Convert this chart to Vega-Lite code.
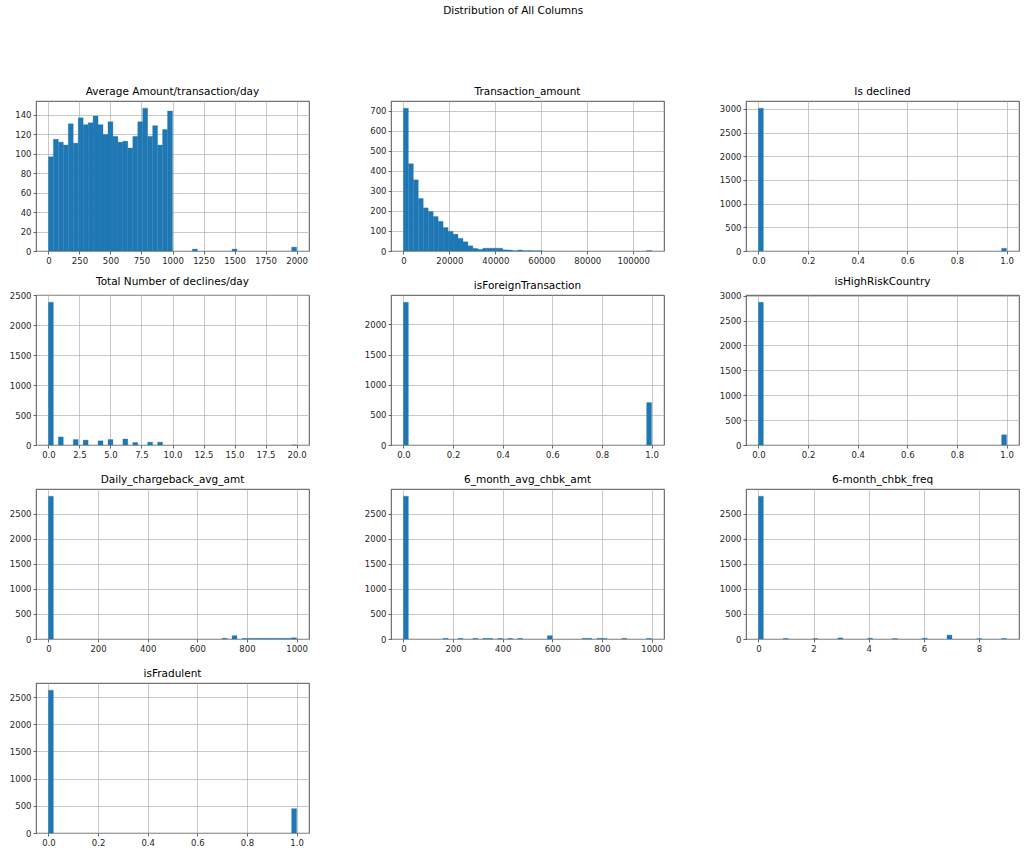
{
  "$schema": "https://vega.github.io/schema/vega-lite/v6.json",
  "padding": {"left": 8, "top": 5, "right": 5, "bottom": 5},
  "title": {"text": "Distribution of All Columns", "fontSize": 10.5, "offset": 70, "anchor": "middle", "dx": -1},
  "config": {
    "font": "DejaVu Sans",
    "view": {"stroke": "#262626", "strokeWidth": 0.8},
    "axis": {"domain": false, "grid": true, "gridColor": "#b0b0b0", "gridWidth": 0.7, "tickColor": "#262626", "tickSize": 3, "tickWidth": 0.7, "labelFontSize": 8.5, "labelColor": "#262626", "labelPadding": 2, "labelFont": "DejaVu Sans"},
    "title": {"fontSize": 10.5, "fontWeight": "normal", "color": "#000000", "offset": 4, "font": "DejaVu Sans"},
    "bar": {"color": "#1f77b4", "stroke": "#1f77b4", "strokeWidth": 0.3}
  },
  "datasets": {
    "hist": [
      {"var": "avg", "bin_start": 0, "bin_end": 40, "count": 97},
      {"var": "avg", "bin_start": 40, "bin_end": 80, "count": 115},
      {"var": "avg", "bin_start": 80, "bin_end": 120, "count": 112},
      {"var": "avg", "bin_start": 120, "bin_end": 160, "count": 109},
      {"var": "avg", "bin_start": 160, "bin_end": 200, "count": 131},
      {"var": "avg", "bin_start": 200, "bin_end": 240, "count": 111},
      {"var": "avg", "bin_start": 240, "bin_end": 280, "count": 137},
      {"var": "avg", "bin_start": 280, "bin_end": 320, "count": 130},
      {"var": "avg", "bin_start": 320, "bin_end": 360, "count": 132},
      {"var": "avg", "bin_start": 360, "bin_end": 400, "count": 139},
      {"var": "avg", "bin_start": 400, "bin_end": 440, "count": 130},
      {"var": "avg", "bin_start": 440, "bin_end": 480, "count": 120},
      {"var": "avg", "bin_start": 480, "bin_end": 520, "count": 133},
      {"var": "avg", "bin_start": 520, "bin_end": 560, "count": 118},
      {"var": "avg", "bin_start": 560, "bin_end": 600, "count": 112},
      {"var": "avg", "bin_start": 600, "bin_end": 640, "count": 113},
      {"var": "avg", "bin_start": 640, "bin_end": 680, "count": 106},
      {"var": "avg", "bin_start": 680, "bin_end": 720, "count": 118},
      {"var": "avg", "bin_start": 720, "bin_end": 760, "count": 133},
      {"var": "avg", "bin_start": 760, "bin_end": 800, "count": 147},
      {"var": "avg", "bin_start": 800, "bin_end": 840, "count": 118},
      {"var": "avg", "bin_start": 840, "bin_end": 880, "count": 129},
      {"var": "avg", "bin_start": 880, "bin_end": 920, "count": 109},
      {"var": "avg", "bin_start": 920, "bin_end": 960, "count": 125},
      {"var": "avg", "bin_start": 960, "bin_end": 1000, "count": 144},
      {"var": "avg", "bin_start": 1160, "bin_end": 1200, "count": 2},
      {"var": "avg", "bin_start": 1480, "bin_end": 1520, "count": 2},
      {"var": "avg", "bin_start": 1960, "bin_end": 2000, "count": 4},

      {"var": "amt", "bin_start": 0, "bin_end": 2160, "count": 712},
      {"var": "amt", "bin_start": 2160, "bin_end": 4320, "count": 435},
      {"var": "amt", "bin_start": 4320, "bin_end": 6480, "count": 355},
      {"var": "amt", "bin_start": 6480, "bin_end": 8640, "count": 262},
      {"var": "amt", "bin_start": 8640, "bin_end": 10800, "count": 215},
      {"var": "amt", "bin_start": 10800, "bin_end": 12960, "count": 197},
      {"var": "amt", "bin_start": 12960, "bin_end": 15120, "count": 172},
      {"var": "amt", "bin_start": 15120, "bin_end": 17280, "count": 148},
      {"var": "amt", "bin_start": 17280, "bin_end": 19440, "count": 117},
      {"var": "amt", "bin_start": 19440, "bin_end": 21600, "count": 98},
      {"var": "amt", "bin_start": 21600, "bin_end": 23760, "count": 84},
      {"var": "amt", "bin_start": 23760, "bin_end": 25920, "count": 63},
      {"var": "amt", "bin_start": 25920, "bin_end": 28080, "count": 46},
      {"var": "amt", "bin_start": 28080, "bin_end": 30240, "count": 26},
      {"var": "amt", "bin_start": 30240, "bin_end": 32400, "count": 13},
      {"var": "amt", "bin_start": 32400, "bin_end": 34560, "count": 8},
      {"var": "amt", "bin_start": 34560, "bin_end": 36720, "count": 14},
      {"var": "amt", "bin_start": 36720, "bin_end": 38880, "count": 14},
      {"var": "amt", "bin_start": 38880, "bin_end": 41040, "count": 14},
      {"var": "amt", "bin_start": 41040, "bin_end": 43200, "count": 14},
      {"var": "amt", "bin_start": 43200, "bin_end": 45360, "count": 6},
      {"var": "amt", "bin_start": 45360, "bin_end": 47520, "count": 5},
      {"var": "amt", "bin_start": 47520, "bin_end": 49680, "count": 1},
      {"var": "amt", "bin_start": 49680, "bin_end": 51840, "count": 5},
      {"var": "amt", "bin_start": 51840, "bin_end": 54000, "count": 1},
      {"var": "amt", "bin_start": 54000, "bin_end": 56160, "count": 2},
      {"var": "amt", "bin_start": 56160, "bin_end": 58320, "count": 1},
      {"var": "amt", "bin_start": 58320, "bin_end": 60480, "count": 1},
      {"var": "amt", "bin_start": 105840, "bin_end": 108000, "count": 2},

      {"var": "declined", "bin_start": 0, "bin_end": 0.02, "count": 3018},
      {"var": "declined", "bin_start": 0.98, "bin_end": 1, "count": 57},

      {"var": "ndecl", "bin_start": 0, "bin_end": 0.4, "count": 2386},
      {"var": "ndecl", "bin_start": 0.8, "bin_end": 1.2, "count": 135},
      {"var": "ndecl", "bin_start": 2.0, "bin_end": 2.4, "count": 92},
      {"var": "ndecl", "bin_start": 2.8, "bin_end": 3.2, "count": 82},
      {"var": "ndecl", "bin_start": 4.0, "bin_end": 4.4, "count": 70},
      {"var": "ndecl", "bin_start": 4.8, "bin_end": 5.2, "count": 92},
      {"var": "ndecl", "bin_start": 6.0, "bin_end": 6.4, "count": 100},
      {"var": "ndecl", "bin_start": 6.8, "bin_end": 7.2, "count": 42},
      {"var": "ndecl", "bin_start": 8.0, "bin_end": 8.4, "count": 48},
      {"var": "ndecl", "bin_start": 8.8, "bin_end": 9.2, "count": 48},
      {"var": "ndecl", "bin_start": 19.6, "bin_end": 20, "count": 1},

      {"var": "foreign", "bin_start": 0, "bin_end": 0.02, "count": 2370},
      {"var": "foreign", "bin_start": 0.98, "bin_end": 1, "count": 705},

      {"var": "highrisk", "bin_start": 0, "bin_end": 0.02, "count": 2870},
      {"var": "highrisk", "bin_start": 0.98, "bin_end": 1, "count": 205},

      {"var": "dcb", "bin_start": 0, "bin_end": 20, "count": 2850},
      {"var": "dcb", "bin_start": 700, "bin_end": 720, "count": 15},
      {"var": "dcb", "bin_start": 740, "bin_end": 760, "count": 67},
      {"var": "dcb", "bin_start": 780, "bin_end": 800, "count": 12},
      {"var": "dcb", "bin_start": 800, "bin_end": 820, "count": 12},
      {"var": "dcb", "bin_start": 820, "bin_end": 840, "count": 12},
      {"var": "dcb", "bin_start": 840, "bin_end": 860, "count": 12},
      {"var": "dcb", "bin_start": 860, "bin_end": 880, "count": 12},
      {"var": "dcb", "bin_start": 880, "bin_end": 900, "count": 12},
      {"var": "dcb", "bin_start": 900, "bin_end": 920, "count": 12},
      {"var": "dcb", "bin_start": 920, "bin_end": 940, "count": 12},
      {"var": "dcb", "bin_start": 940, "bin_end": 960, "count": 12},
      {"var": "dcb", "bin_start": 960, "bin_end": 980, "count": 12},
      {"var": "dcb", "bin_start": 980, "bin_end": 1000, "count": 25},

      {"var": "m6amt", "bin_start": 0, "bin_end": 20, "count": 2850},
      {"var": "m6amt", "bin_start": 160, "bin_end": 180, "count": 12},
      {"var": "m6amt", "bin_start": 220, "bin_end": 240, "count": 12},
      {"var": "m6amt", "bin_start": 280, "bin_end": 300, "count": 12},
      {"var": "m6amt", "bin_start": 320, "bin_end": 340, "count": 12},
      {"var": "m6amt", "bin_start": 340, "bin_end": 360, "count": 12},
      {"var": "m6amt", "bin_start": 380, "bin_end": 400, "count": 12},
      {"var": "m6amt", "bin_start": 420, "bin_end": 440, "count": 12},
      {"var": "m6amt", "bin_start": 460, "bin_end": 480, "count": 12},
      {"var": "m6amt", "bin_start": 580, "bin_end": 600, "count": 67},
      {"var": "m6amt", "bin_start": 720, "bin_end": 740, "count": 12},
      {"var": "m6amt", "bin_start": 740, "bin_end": 760, "count": 12},
      {"var": "m6amt", "bin_start": 780, "bin_end": 800, "count": 12},
      {"var": "m6amt", "bin_start": 800, "bin_end": 820, "count": 12},
      {"var": "m6amt", "bin_start": 880, "bin_end": 900, "count": 12},
      {"var": "m6amt", "bin_start": 980, "bin_end": 1000, "count": 12},

      {"var": "m6freq", "bin_start": 0, "bin_end": 0.18, "count": 2850},
      {"var": "m6freq", "bin_start": 0.9, "bin_end": 1.08, "count": 10},
      {"var": "m6freq", "bin_start": 1.98, "bin_end": 2.16, "count": 8},
      {"var": "m6freq", "bin_start": 2.88, "bin_end": 3.06, "count": 22},
      {"var": "m6freq", "bin_start": 3.96, "bin_end": 4.14, "count": 15},
      {"var": "m6freq", "bin_start": 4.86, "bin_end": 5.04, "count": 8},
      {"var": "m6freq", "bin_start": 5.94, "bin_end": 6.12, "count": 15},
      {"var": "m6freq", "bin_start": 6.84, "bin_end": 7.02, "count": 78},
      {"var": "m6freq", "bin_start": 7.92, "bin_end": 8.1, "count": 8},
      {"var": "m6freq", "bin_start": 8.82, "bin_end": 9.0, "count": 10},

      {"var": "fraud", "bin_start": 0, "bin_end": 0.02, "count": 2627},
      {"var": "fraud", "bin_start": 0.98, "bin_end": 1, "count": 448}
    ]
  },
  "concat": [
    {
      "title": "Average Amount/transaction/day",
      "width": 273, "height": 150,
      "data": {"name": "hist"},
      "transform": [{"filter": "datum.var === 'avg'"}],
      "mark": "bar",
      "encoding": {
        "x": {"field": "bin_start", "type": "quantitative", "scale": {"domain": [-100, 2100], "nice": false, "zero": false}, "axis": {"title": null, "format": "d", "values": [0, 250, 500, 750, 1000, 1250, 1500, 1750, 2000]}},
        "x2": {"field": "bin_end"},
        "y": {"field": "count", "type": "quantitative", "scale": {"domain": [0, 154.35], "nice": false}, "axis": {"title": null, "format": "d", "values": [0, 20, 40, 60, 80, 100, 120, 140]}},
        "y2": {"datum": 0}
      }
    },
    {
      "title": "Transaction_amount",
      "width": 273, "height": 150,
      "data": {"name": "hist"},
      "transform": [{"filter": "datum.var === 'amt'"}],
      "mark": "bar",
      "encoding": {
        "x": {"field": "bin_start", "type": "quantitative", "scale": {"domain": [-5400, 113400], "nice": false, "zero": false}, "axis": {"title": null, "format": "d", "values": [0, 20000, 40000, 60000, 80000, 100000]}},
        "x2": {"field": "bin_end"},
        "y": {"field": "count", "type": "quantitative", "scale": {"domain": [0, 747.6], "nice": false}, "axis": {"title": null, "format": "d", "values": [0, 100, 200, 300, 400, 500, 600, 700]}},
        "y2": {"datum": 0}
      }
    },
    {
      "title": "Is declined",
      "width": 273, "height": 150,
      "data": {"name": "hist"},
      "transform": [{"filter": "datum.var === 'declined'"}],
      "mark": "bar",
      "encoding": {
        "x": {"field": "bin_start", "type": "quantitative", "scale": {"domain": [-0.05, 1.05], "nice": false, "zero": false}, "axis": {"title": null, "format": ".1f", "values": [0, 0.2, 0.4, 0.6, 0.8, 1]}},
        "x2": {"field": "bin_end"},
        "y": {"field": "count", "type": "quantitative", "scale": {"domain": [0, 3168.9], "nice": false}, "axis": {"title": null, "format": "d", "values": [0, 500, 1000, 1500, 2000, 2500, 3000]}},
        "y2": {"datum": 0}
      }
    },
    {
      "title": "Total Number of declines/day",
      "width": 273, "height": 150,
      "data": {"name": "hist"},
      "transform": [{"filter": "datum.var === 'ndecl'"}],
      "mark": "bar",
      "encoding": {
        "x": {"field": "bin_start", "type": "quantitative", "scale": {"domain": [-1, 21], "nice": false, "zero": false}, "axis": {"title": null, "format": ".1f", "values": [0, 2.5, 5, 7.5, 10, 12.5, 15, 17.5, 20]}},
        "x2": {"field": "bin_end"},
        "y": {"field": "count", "type": "quantitative", "scale": {"domain": [0, 2505.3], "nice": false}, "axis": {"title": null, "format": "d", "values": [0, 500, 1000, 1500, 2000, 2500]}},
        "y2": {"datum": 0}
      }
    },
    {
      "title": "isForeignTransaction",
      "width": 273, "height": 150,
      "data": {"name": "hist"},
      "transform": [{"filter": "datum.var === 'foreign'"}],
      "mark": "bar",
      "encoding": {
        "x": {"field": "bin_start", "type": "quantitative", "scale": {"domain": [-0.05, 1.05], "nice": false, "zero": false}, "axis": {"title": null, "format": ".1f", "values": [0, 0.2, 0.4, 0.6, 0.8, 1]}},
        "x2": {"field": "bin_end"},
        "y": {"field": "count", "type": "quantitative", "scale": {"domain": [0, 2488.5], "nice": false}, "axis": {"title": null, "format": "d", "values": [0, 500, 1000, 1500, 2000]}},
        "y2": {"datum": 0}
      }
    },
    {
      "title": "isHighRiskCountry",
      "width": 273, "height": 150,
      "data": {"name": "hist"},
      "transform": [{"filter": "datum.var === 'highrisk'"}],
      "mark": "bar",
      "encoding": {
        "x": {"field": "bin_start", "type": "quantitative", "scale": {"domain": [-0.05, 1.05], "nice": false, "zero": false}, "axis": {"title": null, "format": ".1f", "values": [0, 0.2, 0.4, 0.6, 0.8, 1]}},
        "x2": {"field": "bin_end"},
        "y": {"field": "count", "type": "quantitative", "scale": {"domain": [0, 3013.5], "nice": false}, "axis": {"title": null, "format": "d", "values": [0, 500, 1000, 1500, 2000, 2500, 3000]}},
        "y2": {"datum": 0}
      }
    },
    {
      "title": "Daily_chargeback_avg_amt",
      "width": 273, "height": 150,
      "data": {"name": "hist"},
      "transform": [{"filter": "datum.var === 'dcb'"}],
      "mark": "bar",
      "encoding": {
        "x": {"field": "bin_start", "type": "quantitative", "scale": {"domain": [-50, 1050], "nice": false, "zero": false}, "axis": {"title": null, "format": "d", "values": [0, 200, 400, 600, 800, 1000]}},
        "x2": {"field": "bin_end"},
        "y": {"field": "count", "type": "quantitative", "scale": {"domain": [0, 2992.5], "nice": false}, "axis": {"title": null, "format": "d", "values": [0, 500, 1000, 1500, 2000, 2500]}},
        "y2": {"datum": 0}
      }
    },
    {
      "title": "6_month_avg_chbk_amt",
      "width": 273, "height": 150,
      "data": {"name": "hist"},
      "transform": [{"filter": "datum.var === 'm6amt'"}],
      "mark": "bar",
      "encoding": {
        "x": {"field": "bin_start", "type": "quantitative", "scale": {"domain": [-50, 1050], "nice": false, "zero": false}, "axis": {"title": null, "format": "d", "values": [0, 200, 400, 600, 800, 1000]}},
        "x2": {"field": "bin_end"},
        "y": {"field": "count", "type": "quantitative", "scale": {"domain": [0, 2992.5], "nice": false}, "axis": {"title": null, "format": "d", "values": [0, 500, 1000, 1500, 2000, 2500]}},
        "y2": {"datum": 0}
      }
    },
    {
      "title": "6-month_chbk_freq",
      "width": 273, "height": 150,
      "data": {"name": "hist"},
      "transform": [{"filter": "datum.var === 'm6freq'"}],
      "mark": "bar",
      "encoding": {
        "x": {"field": "bin_start", "type": "quantitative", "scale": {"domain": [-0.45, 9.45], "nice": false, "zero": false}, "axis": {"title": null, "format": "d", "values": [0, 2, 4, 6, 8]}},
        "x2": {"field": "bin_end"},
        "y": {"field": "count", "type": "quantitative", "scale": {"domain": [0, 2992.5], "nice": false}, "axis": {"title": null, "format": "d", "values": [0, 500, 1000, 1500, 2000, 2500]}},
        "y2": {"datum": 0}
      }
    },
    {
      "title": "isFradulent",
      "width": 273, "height": 150,
      "data": {"name": "hist"},
      "transform": [{"filter": "datum.var === 'fraud'"}],
      "mark": "bar",
      "encoding": {
        "x": {"field": "bin_start", "type": "quantitative", "scale": {"domain": [-0.05, 1.05], "nice": false, "zero": false}, "axis": {"title": null, "format": ".1f", "values": [0, 0.2, 0.4, 0.6, 0.8, 1]}},
        "x2": {"field": "bin_end"},
        "y": {"field": "count", "type": "quantitative", "scale": {"domain": [0, 2758.4], "nice": false}, "axis": {"title": null, "format": "d", "values": [0, 500, 1000, 1500, 2000, 2500]}},
        "y2": {"datum": 0}
      }
    }
  ],
  "columns": 3,
  "spacing": {"row": 44, "column": 82},
  "bounds": "flush",
  "align": "all",
  "resolve": {"scale": {"x": "independent", "y": "independent"}}
}
